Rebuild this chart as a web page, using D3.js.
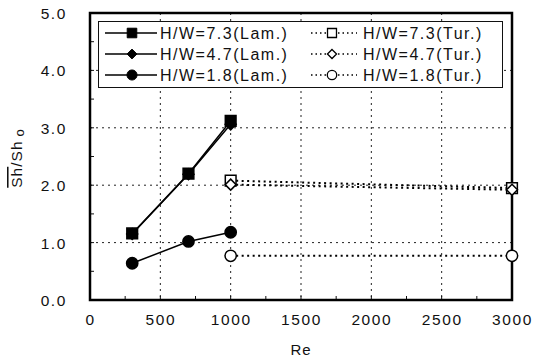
<!DOCTYPE html>
<html><head><meta charset="utf-8">
<script src="https://cdn.jsdelivr.net/npm/d3@7"></script>
<style>body{margin:0;background:#fff}svg text{font-family:"Liberation Sans",Arial,sans-serif;fill:#111}</style>
</head><body><svg id="c" width="540" height="357"></svg>
<script>
const xTicks = [0,500,1000,1500,2000,2500,3000];
const yTicks = [0,1,2,3,4,5];
const reLam = [300,700,1000];
const reTur = [1000,3000];
const lam73 = [1.16,2.20,3.12];
const lam47 = [1.15,2.19,3.06];
const lam18 = [0.64,1.02,1.18];
const tur73 = [2.08,1.95];
const tur47 = [2.01,1.92];
const tur18 = [0.77,0.77];
const seriesNames = ["H/W=7.3(Lam.)","H/W=4.7(Lam.)","H/W=1.8(Lam.)","H/W=7.3(Tur.)","H/W=4.7(Tur.)","H/W=1.8(Tur.)"];

const svg = d3.select("#c");
const L=90,R=512,T=13,B=300;
const x = d3.scaleLinear().domain([0,3000]).range([L,R]);
const y = d3.scaleLinear().domain([0,5]).range([B,T]);

// grid
const g = svg.append("g");
g.selectAll(".gx").data(xTicks.slice(1,-1)).enter().append("line")
 .attr("x1",d=>x(d)).attr("x2",d=>x(d)).attr("y1",T).attr("y2",B)
 .attr("stroke","#222").attr("stroke-width",1).attr("stroke-dasharray","2,4");
g.selectAll(".gy").data(yTicks.slice(1,-1)).enter().append("line")
 .attr("y1",d=>y(d)).attr("y2",d=>y(d)).attr("x1",L).attr("x2",R)
 .attr("stroke","#222").attr("stroke-width",1).attr("stroke-dasharray","2,4");

// axes
const xa = d3.axisBottom(x).tickValues(xTicks).tickSize(0).tickPadding(14).tickFormat(d3.format("d"));
const ya = d3.axisLeft(y).tickValues(yTicks).tickSize(0).tickPadding(23).tickFormat(d3.format(".1f"));
const gx = svg.append("g").attr("transform",`translate(0,${B})`).call(xa);
const gy = svg.append("g").attr("transform",`translate(${L},0)`).call(ya);
[gx,gy].forEach(a=>{a.select(".domain").remove();a.selectAll("text").style("font-size","15.5px").style("letter-spacing","1.6px").attr("fill","#111");});
gy.selectAll("text").attr("dy","0.36em");

// minor ticks
const minorX = d3.range(250,3000,250);
svg.selectAll(".mx").data(minorX).enter().append("line")
 .attr("x1",d=>x(d)).attr("x2",d=>x(d)).attr("y1",B).attr("y2",B-4).attr("stroke","#111").attr("stroke-width",1);
const minorY = d3.range(0.5,5,0.5);
svg.selectAll(".my").data(minorY).enter().append("line")
 .attr("y1",d=>y(d)).attr("y2",d=>y(d)).attr("x1",L).attr("x2",L+4).attr("stroke","#111").attr("stroke-width",1);

// frame
svg.append("rect").attr("x",L).attr("y",T).attr("width",R-L).attr("height",B-T)
 .attr("fill","none").attr("stroke","#000").attr("stroke-width",2.5);

// lines
const line = d3.line().x(d=>x(d[0])).y(d=>y(d[1]));
function drawSeries(res, vals, dashed){
  svg.append("path").datum(res.map((r,i)=>[r,vals[i]])).attr("d",line)
   .attr("fill","none").attr("stroke","#000").attr("stroke-width",dashed?2:1.5)
   .attr("stroke-dasharray",dashed?"2,3.5":null);
}
const squareDiamond = {draw(ctx,size){const r=Math.sqrt(size/2);ctx.moveTo(0,-r);ctx.lineTo(r,0);ctx.lineTo(0,r);ctx.lineTo(-r,0);ctx.closePath();}};
const sym = {sq:d3.symbolSquare, di:squareDiamond, ci:d3.symbolCircle};
const symSize = {sq:115, di:60, ci:100};
function drawMarkers(res, vals, kind, filled){
  svg.selectAll(null).data(res.map((r,i)=>[r,vals[i]])).enter().append("path")
   .attr("d",d3.symbol().type(sym[kind]).size(symSize[kind]))
   .attr("transform",d=>`translate(${x(d[0])},${y(d[1])})`)
   .attr("fill",filled?"#000":"#fff").attr("stroke","#000").attr("stroke-width",1.5);
}
drawSeries(reTur,tur18,true); drawSeries(reTur,tur47,true); drawSeries(reTur,tur73,true);
drawSeries(reLam,lam18,false); drawSeries(reLam,lam47,false); drawSeries(reLam,lam73,false);
drawMarkers(reTur,tur73,"sq",false); drawMarkers(reTur,tur47,"di",false); drawMarkers(reTur,tur18,"ci",false);
drawMarkers(reLam,lam47,"di",true); drawMarkers(reLam,lam73,"sq",true); drawMarkers(reLam,lam18,"ci",true);

// legend
const lg = svg.append("g");
lg.append("rect").attr("x",98.5).attr("y",21.5).attr("width",404).attr("height",66)
 .attr("fill","#fff").attr("stroke","#111").attr("stroke-width",1);
const kinds = ["sq","di","ci"];
const rowsY = [33,54,75];
kinds.forEach((k,i)=>{
  const yy=rowsY[i];
  lg.append("line").attr("x1",105).attr("x2",157).attr("y1",yy).attr("y2",yy).attr("stroke","#000").attr("stroke-width",1.5);
  lg.append("path").attr("d",d3.symbol().type(sym[k]).size(symSize[k]*0.8)).attr("transform",`translate(132,${yy})`).attr("fill","#000").attr("stroke","#000");
  lg.append("text").attr("x",160).attr("y",yy).attr("dy","0.36em").text(seriesNames[i]).style("font-size","16px").style("letter-spacing","1.5px");
  lg.append("line").attr("x1",311).attr("x2",357).attr("y1",yy).attr("y2",yy).attr("stroke","#000").attr("stroke-width",1.5).attr("stroke-dasharray","1.5,3");
  lg.append("path").attr("d",d3.symbol().type(sym[k]).size(symSize[k]*0.7)).attr("transform",`translate(332,${yy})`).attr("fill","#fff").attr("stroke","#000").attr("stroke-width",1.3);
  lg.append("text").attr("x",363).attr("y",yy).attr("dy","0.36em").text(seriesNames[i+3]).style("font-size","16px").style("letter-spacing","1.5px");
});

// axis titles
svg.append("text").attr("x",(L+R)/2).attr("y",350).attr("text-anchor","middle").attr("dy","0.36em")
 .style("font-size","15px").style("letter-spacing","1px").text("Re");
const yt = svg.append("text").attr("transform","translate(22,158) rotate(-90)").attr("text-anchor","middle")
 .style("font-size","15.5px").style("letter-spacing","1px");
yt.append("tspan").style("text-decoration","overline").text("Sh");
yt.append("tspan").text("/Sh");
yt.append("tspan").attr("dx","4").attr("dy","2").style("font-size","13px").text("o");
</script></body></html>
